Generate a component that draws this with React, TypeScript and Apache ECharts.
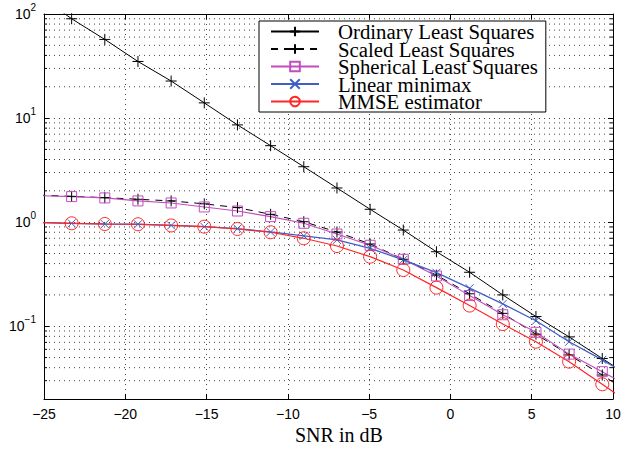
import React, { useEffect, useRef } from "react";
import * as echarts from "echarts";

const X_MIN = -25;
const X_MAX = 10;
const X_STEP = 5;
const Y_MIN = 0.02;
const Y_MAX = 100;

const snr = [-25.34, -23.3, -21.26, -19.22, -17.18, -15.14, -13.1, -11.06, -9.02, -6.98, -4.94, -2.9, -0.86, 1.18, 3.22, 5.26, 7.3, 9.34, 11.38];
const ordinaryLS = [152, 90, 57, 35, 22.7, 14, 8.6, 5.43, 3.41, 2.13, 1.33, 0.84, 0.52, 0.33, 0.2, 0.124, 0.079, 0.049, 0.0305];
const scaledLS = [1.82, 1.77, 1.72, 1.66, 1.6, 1.5, 1.38, 1.19, 1.01, 0.805, 0.617, 0.44, 0.31, 0.205, 0.133, 0.084, 0.053, 0.034, 0.021];
const sphericalLS = [1.8, 1.76, 1.71, 1.6, 1.53, 1.4, 1.28, 1.13, 0.975, 0.77, 0.6, 0.44, 0.304, 0.197, 0.129, 0.0875, 0.054, 0.0366, 0.0245];
const linearMinimax = [0.99, 0.975, 0.96, 0.955, 0.93, 0.905, 0.866, 0.805, 0.74, 0.675, 0.561, 0.434, 0.327, 0.232, 0.164, 0.113, 0.071, 0.0475, 0.031];
const mmse = [0.99, 0.975, 0.96, 0.955, 0.93, 0.905, 0.86, 0.8, 0.7, 0.59, 0.466, 0.347, 0.235, 0.158, 0.105, 0.071, 0.0457, 0.0277, 0.0168];

const seriesNames = ["Ordinary Least Squares", "Scaled Least Squares", "Spherical Least Squares", "Linear minimax", "MMSE estimator"];
const minorY = [0.03, 0.04, 0.05, 0.06, 0.07, 0.08, 0.09, 0.2, 0.3, 0.4, 0.5, 0.6, 0.7, 0.8, 0.9, 2, 3, 4, 5, 6, 7, 8, 9, 20, 30, 40, 50, 60, 70, 80, 90];

const PLUS = "path://M0,5L10,5M5,0L5,10";
const CROSS = "path://M0,0L10,10M10,0L0,10";
const DOT: number[] = [1, 4];
const SERIF = "Liberation Serif, Times New Roman, DejaVu Serif, serif";
const SANS = "Liberation Sans, Arial, sans-serif";

function pair(ys: number[]) {
  return snr.map((x, i) => [x, ys[i]]);
}

export default function App() {
  const ref = useRef<HTMLDivElement>(null);
  useEffect(() => {
    if (!ref.current) return;
    const chart = echarts.init(ref.current, undefined, { renderer: "svg" });
    const clear = "rgba(0,0,0,0)";
    const mk = (name: string, ys: number[], color: string, symbol: string, size: number, dashed: boolean, lw: number) => ({
      type: "line",
      name,
      data: pair(ys),
      xAxisIndex: 0,
      yAxisIndex: 0,
      symbol,
      symbolSize: size,
      showAllSymbol: true,
      clip: true,
      lineStyle: { color, width: lw, type: dashed ? [7, 6] : "solid" },
      itemStyle: { color: clear, borderColor: color, borderWidth: 1 },
      emphasis: { disabled: true },
    });
    const axisLine = { show: true, onZero: false, lineStyle: { color: "#000", width: 1 } };
    const option: any = {
      animation: false,
      textStyle: { fontFamily: SANS },
      grid: { left: 44, right: 14, top: 14, bottom: 52 },
      xAxis: [
        {
          type: "value",
          min: X_MIN,
          max: X_MAX,
          interval: X_STEP,
          position: "bottom",
          axisLine,
          axisTick: { show: true, inside: true, length: 5, lineStyle: { color: "#000" } },
          axisLabel: {
            color: "#000",
            fontFamily: SANS,
            fontSize: 14,
            margin: 8,
            formatter: (v: number) => (v < 0 ? "\u2212" + Math.abs(v) : String(v)),
          },
          splitLine: { show: true, lineStyle: { color: "#444", width: 1, type: DOT } },
        },
        {
          type: "value",
          min: X_MIN,
          max: X_MAX,
          interval: X_STEP,
          position: "top",
          axisLine,
          axisTick: { show: true, inside: true, length: 5, lineStyle: { color: "#000" } },
          axisLabel: { show: false },
          splitLine: { show: false },
        },
      ],
      yAxis: [
        {
          type: "log",
          logBase: 10,
          min: Y_MIN,
          max: Y_MAX,
          position: "left",
          axisLine,
          axisTick: { show: true, inside: true, length: 5, lineStyle: { color: "#000" } },
          axisLabel: {
            color: "#000",
            margin: 8,
            formatter: (v: number) => {
              const l = Math.log10(v);
              const e = Math.round(l);
              if (Math.abs(l - e) > 1e-6) return "";
              return "{b|10}{s|" + (e < 0 ? "\u2212" + -e : String(e)) + "}";
            },
            rich: {
              b: { fontFamily: SANS, fontSize: 14, lineHeight: 24, color: "#000" },
              s: { fontFamily: SANS, fontSize: 10, lineHeight: 8, verticalAlign: "top", color: "#000" },
            },
          },
          splitLine: { show: true, lineStyle: { color: "#444", width: 1, type: DOT } },
        },
        {
          type: "log",
          logBase: 10,
          min: Y_MIN,
          max: Y_MAX,
          position: "right",
          axisLine,
          axisTick: { show: true, inside: true, length: 5, lineStyle: { color: "#000" } },
          axisLabel: { show: false },
          splitLine: { show: false },
        },
      ],
      legend: {
        orient: "vertical",
        left: 259,
        top: 21,
        padding: [0, 8, 0, 11],
        itemGap: -3.5,
        itemWidth: 48,
        itemHeight: 12,
        selectedMode: false,
        backgroundColor: "#fff",
        borderColor: "#000",
        borderWidth: 1,
        data: seriesNames,
        textStyle: { fontFamily: SERIF, fontSize: 20.8, lineHeight: 17.7, color: "#000", padding: [0, 0, 0, 14] },
      },
      graphic: [
        {
          type: "text",
          left: 295,
          top: 425,
          style: { text: "SNR in dB", font: "20px " + SERIF, fill: "#000" },
        },
      ],
      series: [
        {
          type: "custom",
          name: "minor grid",
          xAxisIndex: 0,
          yAxisIndex: 0,
          silent: true,
          z: 1,
          data: minorY.map((v) => [X_MIN, v]),
          renderItem: (params: any, api: any) => {
            const cs = params.coordSys;
            const y = api.coord([X_MIN, api.value(1)])[1];
            const left = cs.x;
            const right = cs.x + cs.width;
            return {
              type: "group",
              children: [
                {
                  type: "line",
                  shape: { x1: left, y1: y, x2: right, y2: y },
                  style: { stroke: "#444", lineWidth: 1, lineDash: DOT },
                },
                { type: "line", shape: { x1: left, y1: y, x2: left + 3, y2: y }, style: { stroke: "#000", lineWidth: 1 } },
                { type: "line", shape: { x1: right - 3, y1: y, x2: right, y2: y }, style: { stroke: "#000", lineWidth: 1 } },
              ],
            };
          },
        },
        mk(seriesNames[0], ordinaryLS, "#000000", PLUS, 11, false, 1),
        mk(seriesNames[1], scaledLS, "#000000", PLUS, 11, true, 1),
        mk(seriesNames[2], sphericalLS, "#c24cc0", "rect", 10, false, 1.1),
        mk(seriesNames[3], linearMinimax, "#3f5fc6", CROSS, 8, false, 1.3),
        mk(seriesNames[4], mmse, "#ff2626", "circle", 13, false, 1.2),
      ],
    };
    chart.setOption(option);
    return () => chart.dispose();
  }, []);
  return <div ref={ref} style={{ width: 627, height: 451, position: "absolute", left: 0, top: 0, background: "#fff" }} />;
}
